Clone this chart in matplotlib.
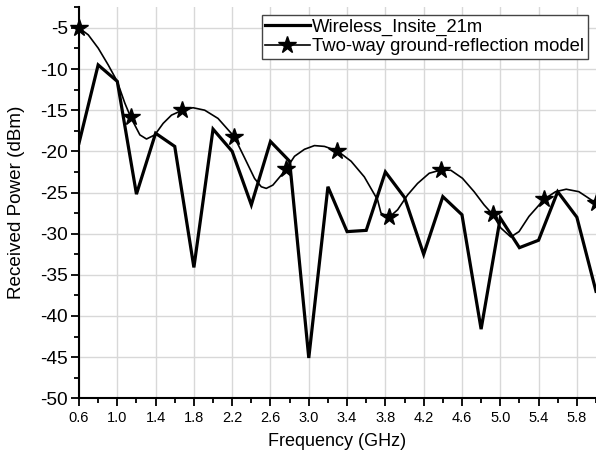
import numpy as np
import matplotlib
matplotlib.use("Agg")
import matplotlib.pyplot as plt
from matplotlib.lines import Line2D
from matplotlib.ticker import MultipleLocator, FixedLocator

plt.rcParams['font.family'] = ['Liberation Sans', 'DejaVu Sans']

# Wireless Insite (21 m) data
insite_freq = [0.6, 0.8, 1.0, 1.2, 1.4, 1.6, 1.8, 2.0, 2.2, 2.4, 2.6, 2.8, 3.0, 3.2,
               3.4, 3.6, 3.8, 4.0, 4.2, 4.4, 4.6, 4.8, 5.0, 5.2, 5.4, 5.6, 5.8, 6.0]
insite_power = [-19.0, -9.5, -11.5, -25.2, -17.8, -19.4, -34.1, -17.3, -20.0, -26.5,
                -18.8, -21.2, -45.1, -24.3, -29.75, -29.6, -22.5, -25.6, -32.5, -25.5,
                -27.7, -41.6, -28.1, -31.7, -30.8, -24.9, -28.0, -37.0]

# Two-way ground-reflection model (curve)
model_freq = [0.6, 0.697, 0.801, 0.905, 0.999, 1.079, 1.14, 1.236, 1.305, 1.392, 1.479,
              1.566, 1.68, 1.791, 1.913, 2.052, 2.22, 2.33, 2.434, 2.504, 2.556, 2.625,
              2.712, 2.76, 2.851, 2.955, 3.059, 3.164, 3.30, 3.442, 3.58, 3.719, 3.754,
              3.84, 3.928, 4.032, 4.136, 4.258, 4.38, 4.484, 4.605, 4.727, 4.831, 4.92,
              5.005, 5.11, 5.196, 5.3, 5.46, 5.578, 5.689, 5.821, 5.925, 6.0]
model_power = [-5.0, -5.85, -7.47, -9.5, -11.5, -14.15, -15.85, -18.0, -18.5, -18.0, -16.6,
               -15.6, -15.0, -14.7, -15.0, -16.0, -18.2, -20.8, -23.3, -24.3, -24.5, -24.1,
               -22.9, -22.2, -20.6, -19.75, -19.3, -19.4, -19.95, -21.2, -23.1, -25.9, -27.5,
               -28.0, -27.1, -25.3, -23.9, -22.66, -22.26, -22.3, -23.27, -24.9, -26.5, -27.65,
               -29.3, -30.4, -29.75, -27.9, -25.8, -24.9, -24.6, -24.9, -25.7, -26.3]
star_freq = [0.6, 1.14, 1.68, 2.22, 2.76, 3.30, 3.84, 4.38, 4.92, 5.46, 6.0]
star_power = [-5.0, -15.85, -15.0, -18.2, -22.2, -19.95, -28.0, -22.26, -27.65, -25.8, -26.3]

x_major = [0.6, 1.0, 1.4, 1.8, 2.2, 2.6, 3.0, 3.4, 3.8, 4.2, 4.6, 5.0, 5.4, 5.8]
x_labels = ["0.6", "1.0", "1.4", "1.8", "2.2", "2.6", "3.0", "3.4", "3.8", "4.2",
            "4.6", "5.0", "5.4", "5.8"]
y_major = [-50, -45, -40, -35, -30, -25, -20, -15, -10, -5]

fig = plt.figure(figsize=(5.96, 4.61), dpi=100)
ax = fig.add_axes([79/596, (461-398.3)/461, (596-79)/596, (398.3-7.3)/461])

ax.plot(insite_freq, insite_power, color='black', lw=2.3, solid_joinstyle='miter',
        zorder=3)
ax.plot(model_freq, model_power, color='black', lw=1.2, zorder=3)
ax.plot(star_freq, star_power, linestyle='none', marker='*', color='black',
        markersize=13, zorder=4, clip_on=False)

ax.set_xlim(0.6, 6.0)
ax.set_ylim(-50, -2.5)
ax.xaxis.set_major_locator(FixedLocator(x_major))
ax.set_xticklabels(x_labels)
ax.xaxis.set_minor_locator(MultipleLocator(0.2))
ax.set_yticks(y_major)
ax.set_yticklabels([str(v) for v in y_major])
ax.yaxis.set_minor_locator(MultipleLocator(2.5))

ax.grid(True, which='major', color='#d8d8d8', lw=1.0, zorder=0)
ax.set_axisbelow(True)
for s in ['top', 'right']:
    ax.spines[s].set_visible(False)
for s in ['left', 'bottom']:
    ax.spines[s].set_linewidth(1.5)
ax.tick_params(which='major', direction='out', length=6, width=1.3)
ax.tick_params(which='minor', direction='out', length=3.5, width=1.3)
ax.tick_params(axis='x', labelsize=10.5, pad=3)
ax.tick_params(axis='y', labelsize=13.8, pad=2)

ax.set_xlabel('Frequency (GHz)', fontsize=13, labelpad=6)
ax.set_ylabel('Received Power (dBm)', fontsize=13.6, labelpad=11)

handles = [Line2D([], [], color='black', lw=2.3),
           Line2D([], [], color='black', lw=1.2, marker='*', markersize=13)]
leg = ax.legend(handles, ['Wireless_Insite_21m', 'Two-way ground-reflection model'],
                loc='upper right', bbox_to_anchor=(588/596, 1 - 15/461),
                bbox_transform=fig.transFigure, fontsize=13.3, frameon=True,
                fancybox=False, edgecolor='#444444', framealpha=1, borderpad=0.2,
                labelspacing=0.12, handlelength=2.4, handletextpad=0.15, borderaxespad=0)
leg.get_frame().set_linewidth(1.0)

fig.savefig('out.png', dpi=100)
